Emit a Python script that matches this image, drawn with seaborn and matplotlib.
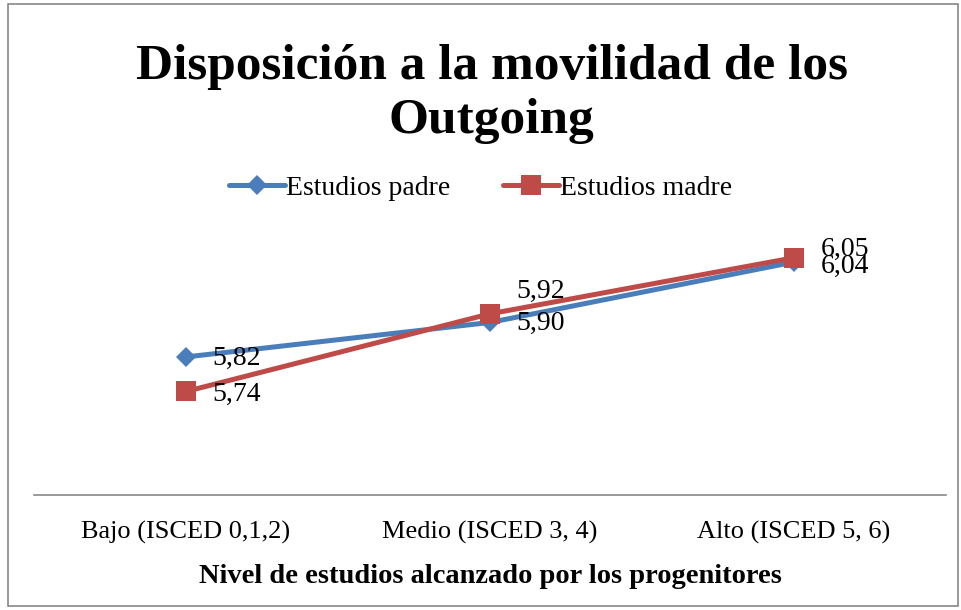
import matplotlib
matplotlib.use("Agg")
import matplotlib.pyplot as plt
import seaborn as sns
import pandas as pd
from matplotlib.patches import Rectangle

categories = ["Bajo (ISCED 0,1,2)", "Medio (ISCED 3, 4)", "Alto (ISCED 5, 6)"]
padre = [5.82, 5.90, 6.04]
madre = [5.74, 5.92, 6.05]
padre_labels = ["5,82", "5,90", "6,04"]
madre_labels = ["5,74", "5,92", "6,05"]
title = "Disposición a la movilidad de los\nOutgoing"
xlabel = "Nivel de estudios alcanzado por los progenitores"

sns.set_theme(style="white")
plt.rcParams['font.family'] = ['Liberation Serif', 'DejaVu Serif']
plt.rcParams['text.color'] = 'black'
plt.rcParams['xtick.color'] = 'black'
plt.rcParams['axes.labelcolor'] = 'black'

fig = plt.figure(figsize=(9.62, 6.10), dpi=100)
ax = fig.add_axes([0.0353, 0.1885, 0.9481, 0.4951])

x = list(range(len(categories)))
df = pd.DataFrame({
    "x": x * 2,
    "y": padre + madre,
    "serie": ["Estudios padre"] * 3 + ["Estudios madre"] * 3,
})
palette = {"Estudios padre": "#4A7EBB", "Estudios madre": "#BE4B48"}
sns.lineplot(data=df[df.serie == "Estudios padre"], x="x", y="y", color=palette["Estudios padre"],
             marker="D", markersize=10.5, markeredgewidth=0, linewidth=3.6,
             label="Estudios padre", ax=ax)
sns.lineplot(data=df[df.serie == "Estudios madre"], x="x", y="y", color=palette["Estudios madre"],
             marker="s", markersize=14, markeredgewidth=0, linewidth=3.6,
             label="Estudios madre", ax=ax)

ax.set_xlim(-0.5, 2.5)
ax.set_ylim(5.5, 6.2)
ax.set_xticks(x)
ax.set_xticklabels(categories, fontsize=19)
ax.tick_params(axis='x', length=0, pad=19)
ax.set_yticks([])
ax.set_ylabel("")
ax.set_xlabel(xlabel, fontsize=20.5, fontweight='bold', labelpad=14)
for s in ["top", "left", "right"]:
    ax.spines[s].set_visible(False)
ax.spines["bottom"].set_color("#888888")
ax.spines["bottom"].set_linewidth(1.2)

# data labels
padre_off = [(19, -1), (19, -1), (19, -3)]
madre_off = [(19, -2), (19, 16), (19, 6)]
for i in x:
    ax.annotate(padre_labels[i], (x[i], padre[i]), xytext=padre_off[i],
                textcoords="offset points", fontsize=20, va="center", ha="left")
    ax.annotate(madre_labels[i], (x[i], madre[i]), xytext=madre_off[i],
                textcoords="offset points", fontsize=20, va="center", ha="left")

leg = ax.legend(loc="center", bbox_to_anchor=(0.5, 0.692), bbox_transform=fig.transFigure,
                ncol=2, frameon=False, fontsize=20, handlelength=2.0,
                handletextpad=0.05, columnspacing=1.9)

fig.text(0.511, 0.846, title, ha="center", va="center", fontsize=37,
         fontweight="bold", linespacing=1.25)

fig.patches.append(Rectangle((0.008, 0.006), 0.988, 0.988, transform=fig.transFigure,
                             fill=False, edgecolor="#888888", linewidth=1.2))

fig.savefig("out.png", dpi=100)
